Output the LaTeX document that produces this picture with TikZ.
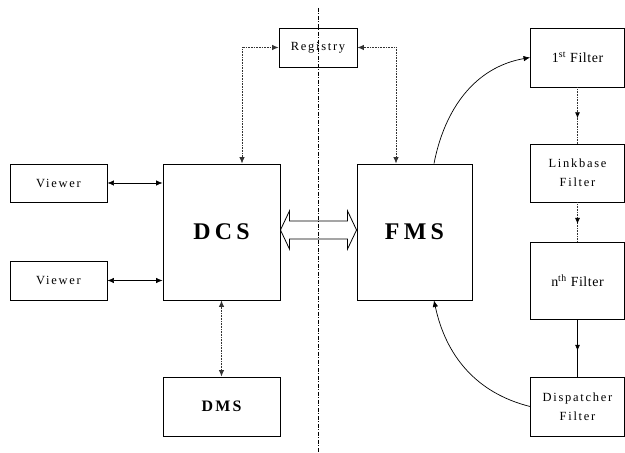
\documentclass[tikz,border=0pt]{standalone}
\usepackage{fontspec}
\setmainfont{Liberation Serif}
\newfontfamily\spacedfont[LetterSpace=14]{Liberation Serif}
\newfontfamily\widefont[LetterSpace=18]{Liberation Serif}
\newfontfamily\lightfont[LetterSpace=4]{Liberation Serif}
\usetikzlibrary{arrows.meta,calc,decorations.markings}
\begin{document}
\begin{tikzpicture}[x=1bp,y=1bp,
  box/.style={draw,line width=0.9bp,inner sep=0pt,align=center,
    font=\spacedfont\fontsize{12.5}{19}\selectfont},
  plainbox/.style={box,font=\lightfont\fontsize{14}{19}\selectfont},
  bigbox/.style={box,font=\widefont\bfseries\fontsize{24}{28}\selectfont},
  smallbold/.style={box,font=\spacedfont\bfseries\fontsize{16}{19}\selectfont},
  tip/.tip={Latex[length=6.5bp,width=5.5bp]},
  conn/.style={line width=0.7bp},
  dotline/.style={line width=0.8bp,dash pattern=on 0.8bp off 0.8bp,draw=black!80},
  midarrow/.style={postaction={decorate},decoration={markings,
    mark=at position 0.55 with {\arrow[black,solid]{Latex[length=6bp,width=5bp]}}}},
  sepline/.style={line width=0.6bp,dash pattern=on 4bp off 1.5bp on 1bp off 1.5bp}
]
\useasboundingbox (0,0) rectangle (625,453);

% nodes
\node[box,minimum width=78bp,minimum height=39bp] (reg) at (318,405.5) {Registry};
\node[bigbox,minimum width=117bp,minimum height=136bp] (dcs) at (221.5,221) {DCS};
\node[bigbox,minimum width=115bp,minimum height=136bp] (fms) at (414.5,221) {FMS};
\node[box,minimum width=97bp,minimum height=38bp] (v1) at (58.5,270) {Viewer};
\node[box,minimum width=97bp,minimum height=39bp] (v2) at (58.5,172.5) {Viewer};
\node[smallbold,minimum width=117bp,minimum height=59bp] (dms) at (221.5,46.5) {DMS};
\node[plainbox,minimum width=94bp,minimum height=59bp] (f1) at (577.5,395.5) {1\textsuperscript{st} Filter};
\node[box,minimum width=94bp,minimum height=58bp] (f2) at (577.5,280) {Linkbase\\Filter};
\node[plainbox,minimum width=94bp,minimum height=77bp] (f3) at (577.5,172.5) {n\textsuperscript{th} Filter};
\node[box,minimum width=94bp,minimum height=59bp] (f4) at (577.5,46.5) {Dispatcher\\Filter};

% viewer connectors
\draw[conn,tip-tip] (v1.east) -- (v1.east -| dcs.west);
\draw[conn,tip-tip] (v2.east) -- (v2.east -| dcs.west);

% registry connectors
\draw[dotline,tip-tip] (reg.west) -| ([xshift=20.5bp]dcs.north);
\draw[dotline,tip-tip] (reg.east) -| ([xshift=-18.5bp]fms.north);

% DCS - DMS
\draw[dotline,tip-tip] (dcs.south) -- (dms.north);

% filter chain
\draw[dotline,midarrow] (f1.south) -- (f2.north);
\draw[dotline,midarrow] (f2.south) -- (f3.north);
\draw[conn,midarrow] (f3.south) -- (f4.north);

% curves
\draw[conn,-tip] ([xshift=19.5bp]fms.north) to[out=79,in=190] (f1.west);
\draw[conn,-tip] (f4.west) to[out=166,in=-78] ([xshift=19.5bp]fms.south);

% double arrow DCS <-> FMS
\coordinate (L) at ($(dcs.east)+(0,2)$);
\coordinate (R) at ($(fms.west)+(0,2)$);
\draw[line width=0.8bp] (L) -- ($(L)+(9,19)$) -- ($(L)+(9,9)$) -- ($(R)+(-9,9)$)
  -- ($(R)+(-9,19)$) -- (R) -- ($(R)+(-9,-19)$) -- ($(R)+(-9,-9)$)
  -- ($(L)+(9,-9)$) -- ($(L)+(9,-19)$) -- cycle;

% separator
\coordinate (septop) at (318,445);
\coordinate (sepbot) at (318,0);
\draw[sepline] (septop) -- (sepbot);
\end{tikzpicture}
\end{document}
